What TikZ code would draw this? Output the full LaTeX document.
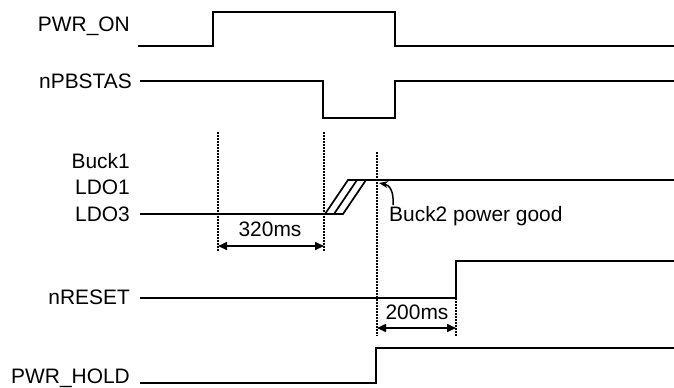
\documentclass[tikz,border=0pt]{standalone}
\usepackage{fontspec}
\setmainfont{Liberation Sans}
\usetikzlibrary{arrows.meta}

\begin{document}
\begin{tikzpicture}[x=1bp,y=-1bp,
  sig/.style={line width=1.7bp},
  tmark/.style={line width=2.3bp,dash pattern=on 1.8bp off 1.2bp},
  dim/.style={line width=1.6bp,{Triangle[length=9bp,width=8bp]}-{Triangle[length=9bp,width=8bp]}},
  lbl/.style={inner sep=0pt,font=\fontsize{21}{24}\selectfont}]
\useasboundingbox (0,0) rectangle (674,387);

% signal names
\node[lbl,anchor=east] (pwron) at (130,26) {PWR\_ON};
\node[lbl,anchor=east] (npb) at (132,81) {nPBSTAS};
\node[lbl,anchor=east] (buck1) at (130,161) {Buck1};
\node[lbl,anchor=east] (ldo1) at (130,187) {LDO1};
\node[lbl,anchor=east] (ldo3) at (130,214) {LDO3};
\node[lbl,anchor=east] (nrst) at (130,297) {nRESET};
\node[lbl,anchor=east] (hold) at (130,378) {PWR\_HOLD};

% waveforms
\draw[sig] (138,46) -- (213,46) -- (213,12) -- (395,12) -- (395,46) -- (674,46);
\draw[sig] (140,81) -- (323,81) -- (323,118) -- (395,118) -- (395,81) -- (674,81);
\draw[sig] (140,214) -- (343,214) -- (366,180);
\draw[sig] (325,214) -- (348,180) -- (674,180);
\draw[sig] (334,214) -- (357,180);
\draw[sig] (140,298) -- (456,298) -- (456,261) -- (674,261);
\draw[sig] (140,383) -- (376,383) -- (376,348) -- (674,348);

% timing marks
\draw[tmark] (218,132) -- (218,251);
\draw[tmark] (324,132) -- (324,251);
\draw[tmark] (377,152) -- (377,336);
\draw[tmark] (456,298) -- (456,336);

\coordinate (a1) at (218,246);
\coordinate (a2) at (324,246);
\coordinate (b1) at (377,328);
\coordinate (b2) at (456,328);
\draw[dim] (a1) -- (a2);
\draw[dim] (b1) -- (b2);
\node[lbl] (t320) at (270,229) {320ms};
\node[lbl] (t200) at (417,312) {200ms};

\node[lbl,anchor=west] (pg) at (389,216) {Buck2 power good};
\draw[line width=1.5bp,-{Stealth[length=9bp,width=7bp]}] (393,205) .. controls (394,192) and (390,185) .. (379,183);
\end{tikzpicture}
\end{document}
